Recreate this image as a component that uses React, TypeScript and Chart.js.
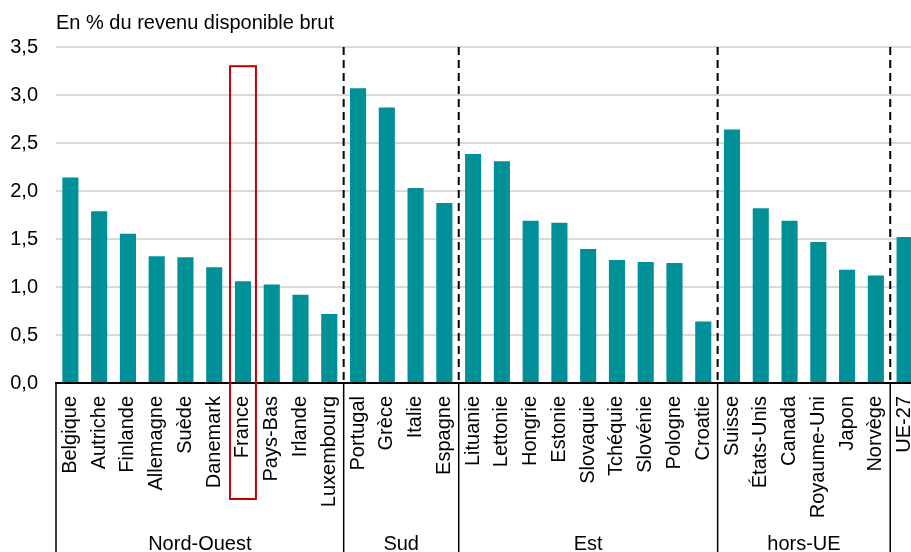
import { useEffect, useRef } from 'react';
import { Chart, registerables } from 'chart.js';

Chart.register(...registerables);

const categories = [
  'Belgique', 'Autriche', 'Finlande', 'Allemagne', 'Suède', 'Danemark', 'France', 'Pays-Bas', 'Irlande', 'Luxembourg',
  'Portugal', 'Grèce', 'Italie', 'Espagne',
  'Lituanie', 'Lettonie', 'Hongrie', 'Estonie', 'Slovaquie', 'Tchéquie', 'Slovénie', 'Pologne', 'Croatie',
  'Suisse', 'États-Unis', 'Canada', 'Royaume-Uni', 'Japon', 'Norvège',
  'UE-27',
];

const values = [
  2.14, 1.79, 1.555, 1.32, 1.31, 1.205, 1.06, 1.025, 0.92, 0.72,
  3.07, 2.87, 2.03, 1.875,
  2.385, 2.31, 1.69, 1.67, 1.395, 1.28, 1.26, 1.25, 0.64,
  2.64, 1.82, 1.69, 1.47, 1.18, 1.12,
  1.52,
];

const groupNames = ['Nord-Ouest', 'Sud', 'Est', 'hors-UE', ''];
const groupSizes = [10, 4, 9, 6, 1];

const yMin = 0;
const yMax = 3.5;
const yStep = 0.5;

const titleText = 'En % du revenu disponible brut';
const highlightCategory = 'France';
const highlightTop = 3.3;

const FONT = '"Liberation Sans", Arial, sans-serif';
const FS = 20;

export default function App() {
  const ref = useRef<HTMLCanvasElement>(null);

  useEffect(() => {
    const overlay = {
      id: 'overlay',
      afterDraw(chart: any) {
        const { ctx, chartArea } = chart;
        const x = chart.scales.x;
        const y = chart.scales.y;
        ctx.save();
        // title
        ctx.font = `${FS}px ${FONT}`;
        ctx.fillStyle = '#000';
        ctx.textAlign = 'left';
        ctx.textBaseline = 'middle';
        ctx.fillText(titleText, chartArea.left, 23);

        const step = x.getPixelForValue(1) - x.getPixelForValue(0);
        const bx = (i: number) => (x.getPixelForValue(i - 1) + x.getPixelForValue(i)) / 2;
        const bounds: number[] = [];
        let acc = 0;
        groupSizes.forEach((n) => {
          acc += n;
          if (acc < categories.length) bounds.push(acc);
        });

        // dashed separators
        ctx.strokeStyle = '#000';
        ctx.lineWidth = 2;
        ctx.setLineDash([8, 5]);
        bounds.forEach((i) => {
          ctx.beginPath();
          ctx.moveTo(bx(i), chartArea.top);
          ctx.lineTo(bx(i), chartArea.bottom);
          ctx.stroke();
        });
        ctx.setLineDash([]);

        // solid separators in label area
        ctx.lineWidth = 1.5;
        [chartArea.left, ...bounds.map(bx)].forEach((px) => {
          ctx.beginPath();
          ctx.moveTo(px, chartArea.bottom);
          ctx.lineTo(px, chart.height);
          ctx.stroke();
        });

        // group labels
        ctx.textAlign = 'center';
        ctx.textBaseline = 'alphabetic';
        let start = 0;
        groupNames.forEach((name, g) => {
          const end = start + groupSizes[g];
          const left = x.getPixelForValue(start) - step / 2;
          const right = x.getPixelForValue(end - 1) + step / 2;
          if (name) ctx.fillText(name, (left + right) / 2, chartArea.bottom + 167);
          start = end;
        });

        // highlight rectangle
        const fi = categories.indexOf(highlightCategory);
        const cx = x.getPixelForValue(fi);
        const w = step * 0.9;
        const top = y.getPixelForValue(highlightTop);
        ctx.strokeStyle = '#C00000';
        ctx.lineWidth = 2;
        ctx.strokeRect(cx - w / 2, top, w, chartArea.bottom + 116 - top);
        ctx.restore();
      },
    };

    const chart = new Chart(ref.current!, {
      type: 'bar',
      data: {
        labels: categories,
        datasets: [
          {
            data: values,
            backgroundColor: '#009098',
            borderWidth: 0,
            barPercentage: 0.56,
            categoryPercentage: 1,
          },
        ],
      },
      options: {
        responsive: false,
        animation: false,
        layout: { padding: { top: 47, right: 0, left: 0, bottom: 0 } },
        plugins: {
          legend: { display: false },
          tooltip: { enabled: false },
          title: { display: false },
        },
        scales: {
          x: {
            grid: { display: false },
            border: { display: true, color: '#000', width: 2 },
            ticks: {
              minRotation: 90,
              maxRotation: 90,
              autoSkip: false,
              padding: 5,
              color: '#000',
              font: { family: FONT, size: FS },
            },
            afterFit(scale: any) {
              scale.height = 169;
              scale.paddingLeft = 0;
              scale.paddingRight = 0;
            },
          },
          y: {
            min: yMin,
            max: yMax,
            grid: { color: '#d9d9d9', lineWidth: 2, drawTicks: false },
            border: { display: false },
            ticks: {
              stepSize: yStep,
              padding: 18,
              color: '#000',
              font: { family: FONT, size: FS },
              callback: (v: any) => Number(v).toFixed(1).replace('.', ','),
            },
            afterFit(scale: any) {
              scale.width = 56;
              scale.paddingTop = 0;
              scale.paddingBottom = 0;
            },
          },
        },
      },
      plugins: [overlay],
    });
    return () => chart.destroy();
  }, []);

  return (
    <div
      style={{
        position: 'fixed',
        left: 0,
        top: 0,
        width: 911,
        height: 552,
        overflow: 'hidden',
        background: '#fff',
      }}
    >
      <canvas ref={ref} width={919} height={552} style={{ display: 'block' }} />
    </div>
  );
}
